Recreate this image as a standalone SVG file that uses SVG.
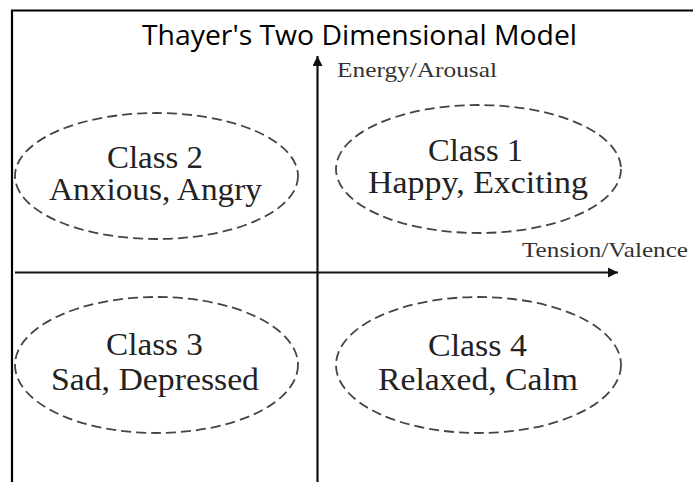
<svg xmlns="http://www.w3.org/2000/svg" width="693" height="482" viewBox="0 0 693 482">
  <style>
    .frame { stroke: #000; stroke-width: 2.2; fill: none; }
    .axis { stroke: #111; stroke-width: 2.2; fill: none; }
    .oval { fill: none; stroke: #444; stroke-width: 1.8; stroke-dasharray: 10 5; }
    .title { font-family: "Open Sans", "Noto Sans", sans-serif; font-size: 27px; fill: #000; }
    .lbl { font-family: "Liberation Serif", "Times New Roman", serif; fill: #222; text-anchor: middle; }
    .cls { font-size: 31px; }
    .ax { font-size: 21px; fill: #333; }
  </style>
  <defs>
    <marker id="arrow" viewBox="0 0 10 10" refX="10" refY="5" markerWidth="10" markerHeight="10" markerUnits="userSpaceOnUse" orient="auto">
      <path d="M0,0 L10,5 L0,10 z" fill="#111"/>
    </marker>
  </defs>
  <rect width="693" height="482" fill="#fff"/>
  <path class="frame" d="M12,482 V10.5 H693"/>
  <text class="title" x="142" y="45" textLength="435" lengthAdjust="spacingAndGlyphs">Thayer's Two Dimensional Model</text>
  <g id="connectors">
    <line class="axis" x1="317.5" y1="482" x2="317.5" y2="56" marker-end="url(#arrow)"/>
    <line class="axis" x1="15" y1="272.5" x2="618" y2="272.5" marker-end="url(#arrow)"/>
  </g>
  <text class="lbl ax" x="417" y="77" textLength="160" lengthAdjust="spacingAndGlyphs">Energy/Arousal</text>
  <text class="lbl ax" x="605" y="257" textLength="166" lengthAdjust="spacingAndGlyphs">Tension/Valence</text>
  <g id="class1">
    <ellipse class="oval" cx="478.5" cy="169" rx="142.5" ry="64"/>
    <text class="lbl cls" x="475.5" y="161" textLength="95" lengthAdjust="spacingAndGlyphs">Class 1</text>
    <text class="lbl cls" x="478" y="193" textLength="220" lengthAdjust="spacingAndGlyphs">Happy, Exciting</text>
  </g>
  <g id="class2">
    <ellipse class="oval" cx="156.5" cy="176" rx="141.5" ry="63"/>
    <text class="lbl cls" x="155" y="168" textLength="96" lengthAdjust="spacingAndGlyphs">Class 2</text>
    <text class="lbl cls" x="155.5" y="200" textLength="213" lengthAdjust="spacingAndGlyphs">Anxious, Angry</text>
  </g>
  <g id="class3">
    <ellipse class="oval" cx="156.5" cy="365" rx="141.5" ry="68"/>
    <text class="lbl cls" x="154.5" y="355" textLength="97" lengthAdjust="spacingAndGlyphs">Class 3</text>
    <text class="lbl cls" x="155" y="390" textLength="208" lengthAdjust="spacingAndGlyphs">Sad, Depressed</text>
  </g>
  <g id="class4">
    <ellipse class="oval" cx="478.5" cy="365" rx="142.5" ry="68"/>
    <text class="lbl cls" x="477.5" y="356" textLength="99" lengthAdjust="spacingAndGlyphs">Class 4</text>
    <text class="lbl cls" x="478" y="390" textLength="200" lengthAdjust="spacingAndGlyphs">Relaxed, Calm</text>
  </g>
</svg>
